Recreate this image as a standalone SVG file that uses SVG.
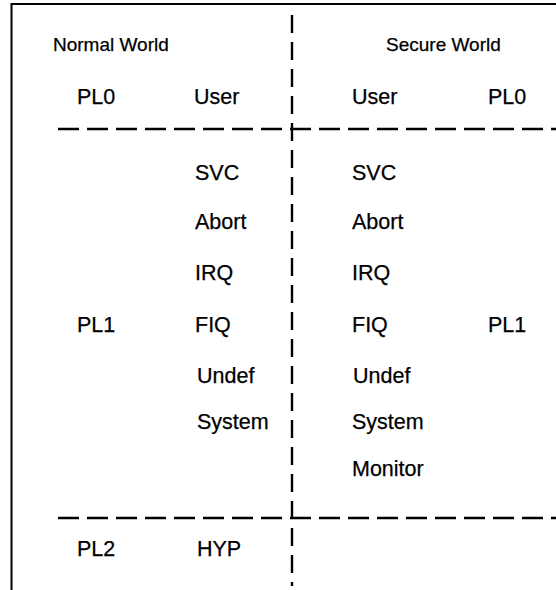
<svg xmlns="http://www.w3.org/2000/svg" width="556" height="590" viewBox="0 0 556 590">
<style>
.frame{fill:none;stroke:#000;stroke-width:2}
.dash{fill:none;stroke:#000;stroke-width:2.4;stroke-dasharray:21 8}
.vdash{fill:none;stroke:#000;stroke-width:2.4;stroke-dasharray:18 9}
.hd{font-family:"Liberation Sans",Arial,sans-serif;font-size:19px;fill:#000;stroke:#000;stroke-width:0.25}
.t{font-family:"Liberation Sans",Arial,sans-serif;font-size:21.5px;fill:#000;stroke:#000;stroke-width:0.25}
</style>
<rect width="556" height="590" fill="#fff"/>
<g id="frame">
<path class="frame" d="M11.5,590 V4 H556"/>
</g>
<g id="connectors">
<line class="vdash" x1="292" y1="15" x2="292" y2="586"/>
<line class="dash" x1="58" y1="129" x2="556" y2="129"/>
<line class="dash" x1="58" y1="518" x2="556" y2="518"/>
</g>
<g id="normal-world">
<text class="hd" x="53" y="51">Normal World</text>
<text class="t" x="77" y="104">PL0</text>
<text class="t" x="194" y="104">User</text>
<text class="t" x="77" y="332">PL1</text>
<text class="t" x="195" y="180">SVC</text>
<text class="t" x="195" y="229">Abort</text>
<text class="t" x="195" y="280">IRQ</text>
<text class="t" x="195" y="332">FIQ</text>
<text class="t" x="197" y="383">Undef</text>
<text class="t" x="197" y="429">System</text>
<text class="t" x="77" y="556">PL2</text>
<text class="t" x="197" y="556">HYP</text>
</g>
<g id="secure-world">
<text class="hd" x="386" y="51">Secure World</text>
<text class="t" x="352" y="104">User</text>
<text class="t" x="488" y="104">PL0</text>
<text class="t" x="352" y="180">SVC</text>
<text class="t" x="352" y="229">Abort</text>
<text class="t" x="352" y="280">IRQ</text>
<text class="t" x="352" y="332">FIQ</text>
<text class="t" x="488" y="332">PL1</text>
<text class="t" x="353" y="383">Undef</text>
<text class="t" x="352" y="429">System</text>
<text class="t" x="352" y="476">Monitor</text>
</g>
</svg>
